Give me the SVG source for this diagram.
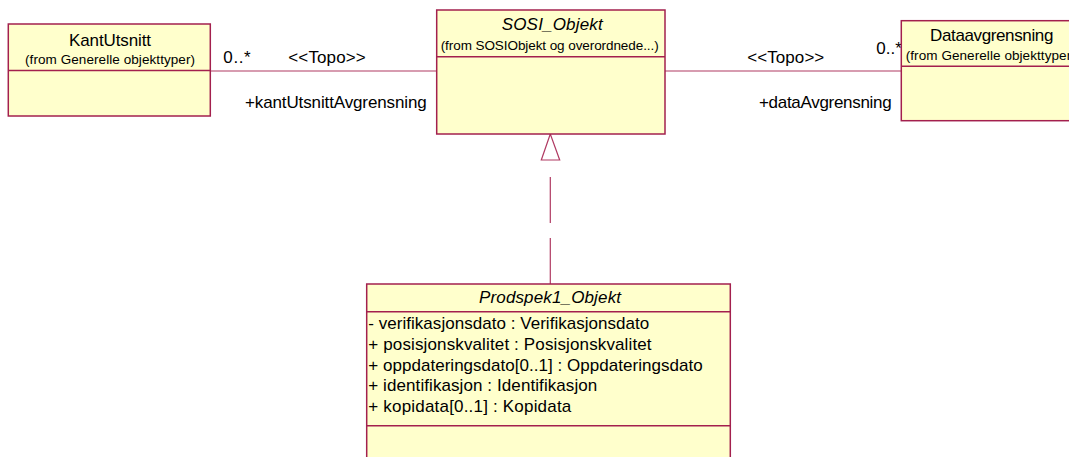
<svg xmlns="http://www.w3.org/2000/svg" width="1069" height="457" viewBox="0 0 1069 457">
<style>
.box{fill:#FFFFCC;stroke:#A3204E;stroke-width:1.5}
.div{stroke:#A3204E;stroke-width:1.5;fill:none}
.t{font-family:"Liberation Sans",Arial,sans-serif;font-size:17px;fill:#000}
.ti{font-family:"Liberation Sans",Arial,sans-serif;font-size:17px;font-style:italic;fill:#000}
.s{font-family:"Liberation Sans",Arial,sans-serif;font-size:13.5px;fill:#000}
.conn{stroke:#B03A62;stroke-width:1.2;fill:none}
</style>
<rect width="1069" height="457" fill="#FFFFFF"/>
<g id="connectors">
<line class="conn" x1="210.3" y1="71" x2="436.7" y2="71"/>
<line class="conn" x1="665" y1="71" x2="901.3" y2="71"/>
<line class="conn" x1="550.3" y1="284" x2="550.3" y2="176" stroke-dasharray="46 15"/>
<polygon points="550.3,134 541.3,160 559.7,160" fill="#FFFFFF" stroke="#B03A62" stroke-width="1.2"/>
<text class="t" x="223.3" y="63.3" textLength="27.4">0..*</text>
<text class="t" x="288.3" y="63.3" textLength="77.4">&lt;&lt;Topo&gt;&gt;</text>
<text class="t" x="245" y="108.3" textLength="181.7">+kantUtsnittAvgrensning</text>
<text class="t" x="747.3" y="62.5" textLength="77">&lt;&lt;Topo&gt;&gt;</text>
<text class="t" x="876.3" y="53.5" textLength="25.5">0..*</text>
<text class="t" x="759" y="108.3" textLength="132.7">+dataAvgrensning</text>
</g>
<g id="KantUtsnitt">
<rect class="box" x="8.3" y="24" width="202" height="92"/>
<line class="div" x1="8.3" y1="70.5" x2="210.3" y2="70.5"/>
<text class="t" x="110" y="45.5" text-anchor="middle" textLength="82">KantUtsnitt</text>
<text class="s" x="110" y="64" text-anchor="middle" textLength="170">(from Generelle objekttyper)</text>
</g>
<g id="SOSI_Objekt">
<rect class="box" x="436.7" y="10" width="228.3" height="124"/>
<line class="div" x1="436.7" y1="56.7" x2="665" y2="56.7"/>
<text class="ti" x="552.2" y="30" text-anchor="middle" textLength="101">SOSI_Objekt</text>
<text class="s" x="549.7" y="49.5" text-anchor="middle" textLength="218">(from SOSIObjekt og overordnede...)</text>
</g>
<g id="Dataavgrensning">
<rect class="box" x="901.3" y="20.7" width="180.7" height="100"/>
<line class="div" x1="901.3" y1="66.3" x2="1082" y2="66.3"/>
<text class="t" x="991.7" y="41.3" text-anchor="middle" textLength="123.3">Dataavgrensning</text>
<text class="s" x="905.7" y="60" textLength="170">(from Generelle objekttyper)</text>
</g>
<g id="Prodspek1_Objekt">
<rect class="box" x="366.7" y="284" width="363.6" height="190"/>
<line class="div" x1="366.7" y1="311.7" x2="730.3" y2="311.7"/>
<line class="div" x1="366.7" y1="425.7" x2="730.3" y2="425.7"/>
<text class="ti" x="550" y="303.3" text-anchor="middle" textLength="142">Prodspek1_Objekt</text>
<text class="t" x="368.3" y="329.3" textLength="281">- verifikasjonsdato : Verifikasjonsdato</text>
<text class="t" x="368.3" y="350" textLength="283.3">+ posisjonskvalitet : Posisjonskvalitet</text>
<text class="t" x="368.3" y="370.6" textLength="334.3">+ oppdateringsdato[0..1] : Oppdateringsdato</text>
<text class="t" x="368.3" y="391" textLength="229">+ identifikasjon : Identifikasjon</text>
<text class="t" x="368.3" y="411.6" textLength="203">+ kopidata[0..1] : Kopidata</text>
</g>
</svg>
